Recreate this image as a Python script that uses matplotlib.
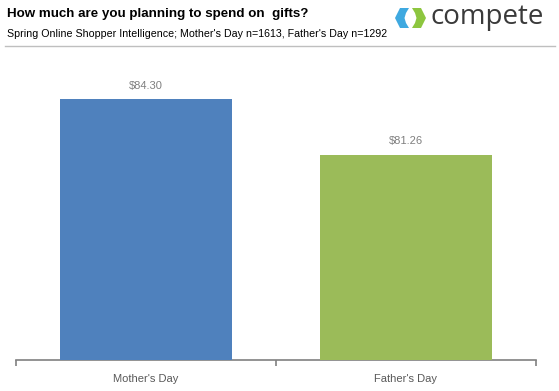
import matplotlib.pyplot as plt
from matplotlib.patches import Polygon
from matplotlib.lines import Line2D

categories = ["Mother's Day", "Father's Day"]
spend = [84.30, 81.26]
bar_labels = [r'\$84.30', r'\$81.26']
bar_colors = ['#4F81BD', '#9BBB59']

title = 'How much are you planning to spend on  gifts?'
subtitle = "Spring Online Shopper Intelligence; Mother's Day n=1613, Father's Day n=1292"

plt.rcParams['font.family'] = ['Liberation Sans', 'DejaVu Sans']

W, H = 559, 391
fig = plt.figure(figsize=(W / 100, H / 100), dpi=100)

# plot area in pixels: x 16..536, y 60..360
ax = fig.add_axes([16 / W, (H - 360) / H, 520 / W, 300 / H])
x = range(len(categories))
ax.bar(x, spend, width=0.665, color=bar_colors, zorder=3)
ax.set_xlim(-0.5, 1.5)
ax.set_ylim(70, 86.44)

for xi, v, lab in zip(x, spend, bar_labels):
    ax.annotate(lab, (xi, v), xytext=(0, 6), textcoords='offset points',
                ha='center', va='bottom', fontsize=8, color='#7F7F7F')

for s in ['top', 'right', 'left']:
    ax.spines[s].set_visible(False)
ax.spines['bottom'].set_color('#808080')
ax.spines['bottom'].set_linewidth(1.2)
ax.set_yticks([])
ax.set_xticks(list(x))
ax.set_xticklabels(categories, fontsize=8, color='#595959')
ax.tick_params(axis='x', which='major', length=0, pad=10)
ax.set_xticks([-0.5, 0.5, 1.5], minor=True)
ax.tick_params(axis='x', which='minor', length=4, width=1.2, color='#808080')

# header
fig.text(7 / W, 1 - 14 / H, title, fontsize=9.6, fontweight='bold',
         color='black', va='center', ha='left')
fig.text(7 / W, 1 - 34 / H, subtitle, fontsize=7.7, color='black',
         va='center', ha='left')
fig.add_artist(Line2D([5 / W, 555 / W], [1 - 46 / H, 1 - 46 / H],
                      color='#BFBFBF', lw=1))

# logo
lax = fig.add_axes([395 / W, 1 - 28 / H, 31 / W, 20 / H])
lax.set_xlim(0, 31)
lax.set_ylim(0, 20)
lax.axis('off')
lax.add_patch(Polygon([(14, 20), (5, 20), (0, 10), (5, 0), (14, 0),
                       (11, 5), (9.5, 10), (11, 15)], closed=True,
                      color='#3FA9E0', lw=0))
lax.add_patch(Polygon([(17, 20), (26, 20), (31, 10), (26, 0), (17, 0),
                       (20, 5), (21.5, 10), (20, 15)], closed=True,
                      color='#8DC63F', lw=0))
fig.text(430 / W, 1 - 17 / H, 'compete', fontsize=20, color='#3A3A3A',
         va='center', ha='left', family=['Open Sans', 'DejaVu Sans'])

fig.savefig('out.png', dpi=100)
